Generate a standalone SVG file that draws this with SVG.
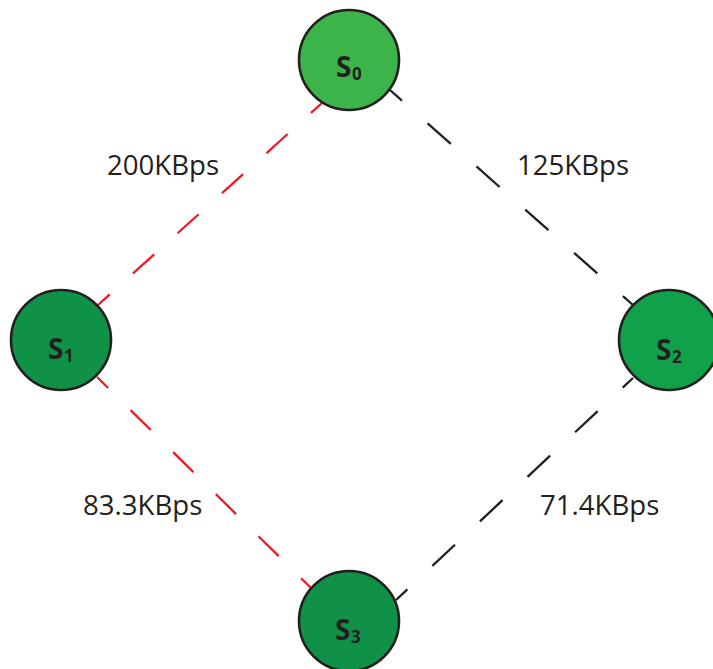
<svg xmlns="http://www.w3.org/2000/svg" width="713" height="669" viewBox="0 0 713 669">
  <style>
    .link { fill: none; stroke-width: 2.3; }
    .red { stroke: #ed1c24; stroke-dasharray: 28.4 31.5; }
    .black { stroke: #231f20; stroke-dasharray: 31 34.2; }
    .node { stroke: #231f20; stroke-width: 2.6; }
    .name { font-family: "Open Sans", "Liberation Sans", sans-serif; font-weight: bold; fill: #231f20; }
    .main { font-size: 28px; }
    .sub { font-size: 17px; }
    .rate { font-family: "Open Sans", "Liberation Sans", sans-serif; font-size: 27.6px; fill: #231f20; }
  </style>

  <!-- edge-to-edge links, dashes phased so each end shows a short stub -->
  <g id="connectors">
    <line class="link red" x1="322" y1="103" x2="98" y2="305" stroke-dashoffset="13.6"/>
    <line class="link red" x1="97" y1="377" x2="311" y2="588" stroke-dashoffset="12.8"/>
    <line class="link black" x1="390" y1="90" x2="633" y2="305" stroke-dashoffset="15"/>
    <line class="link black" x1="396" y1="600" x2="633" y2="378" stroke-dashoffset="15.4"/>
  </g>

  <g id="labels">
    <text class="rate" x="107" y="175">200KBps</text>
    <text class="rate" x="517" y="175">125KBps</text>
    <text class="rate" x="83" y="515">83.3KBps</text>
    <text class="rate" x="540" y="515">71.4KBps</text>
  </g>

  <g id="s0">
    <circle class="node" cx="349" cy="60" r="50" fill="#3bb54a"/>
    <text class="name main" x="336" y="77">S</text>
    <text class="name sub" x="352" y="80">0</text>
  </g>

  <g id="s1">
    <circle class="node" cx="61" cy="340" r="50" fill="#0f9247"/>
    <text class="name main" x="48" y="359">S</text>
    <text class="name sub" x="64" y="362">1</text>
  </g>

  <g id="s2">
    <circle class="node" cx="669" cy="340" r="50" fill="#12a14b"/>
    <text class="name main" x="656" y="360">S</text>
    <text class="name sub" x="672" y="363">2</text>
  </g>

  <g id="s3">
    <circle class="node" cx="349" cy="621" r="50" fill="#0f9247"/>
    <text class="name main" x="335" y="640">S</text>
    <text class="name sub" x="351" y="643">3</text>
  </g>
</svg>
